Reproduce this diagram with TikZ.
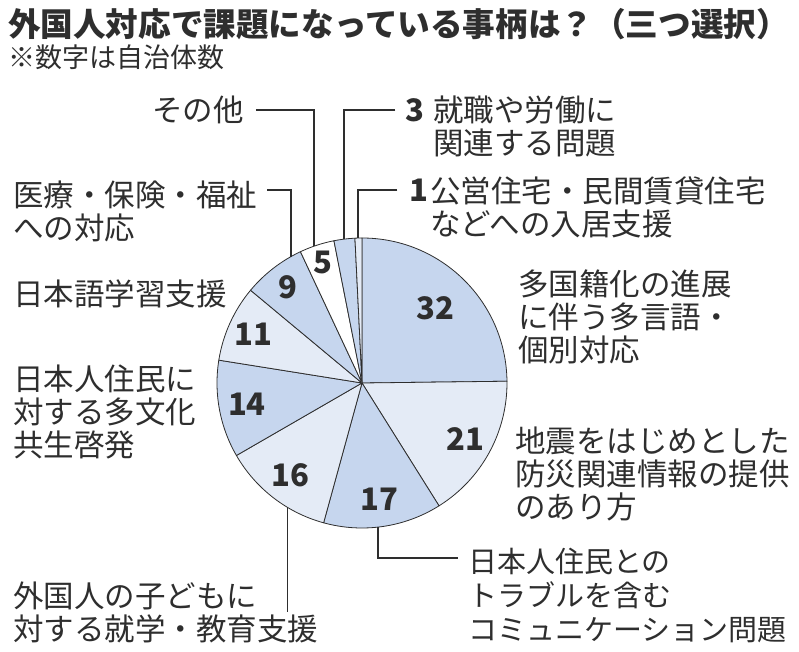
\documentclass[tikz,border=0pt]{standalone}
\usepackage{fontspec}
\newfontfamily\jp{Noto Sans CJK JP}
\definecolor{pieblue}{HTML}{C6D6EE}
\definecolor{pielight}{HTML}{E4EBF6}
\definecolor{ink}{HTML}{2E2E2E}
\tikzset{
	slice/.style={draw=ink, line width=0.8pt, line join=round},
	num/.style={font=\jp\bfseries\fontsize{31}{31}\selectfont, text=ink, inner sep=0pt},
	lbl/.style={font=\jp\fontsize{30.5}{33}\selectfont, text=ink, inner sep=0pt, align=left, anchor=west},
	leader/.style={draw=ink, line width=1.2pt},
}

\begin{document}
\begin{tikzpicture}[x=1pt, y=1pt]
	\useasboundingbox (-362,-269) rectangle (437,383);
	% title
	\node (title) at (-354, 359)	[anchor=west, inner sep=0pt, text=ink, font=\jp\bfseries\fontsize{32.6}{32.6}\selectfont]	{外国人対応で課題になっている事柄は？（三つ選択）};
	\node (note) at (-354, 326)	[anchor=west, inner sep=0pt, text=ink, font=\jp\fontsize{27}{27}\selectfont]	{※数字は自治体数};
	% pie, clockwise from the top
	\filldraw[slice, fill=pieblue]	(0,0) -- (90:145) arc[start angle=90, end angle=0.70, radius=145] -- cycle;
	\filldraw[slice, fill=pielight]	(0,0) -- (0.70:145) arc[start angle=0.70, end angle=-57.91, radius=145] -- cycle;
	\filldraw[slice, fill=pieblue]	(0,0) -- (-57.91:145) arc[start angle=-57.91, end angle=-105.35, radius=145] -- cycle;
	\filldraw[slice, fill=pielight]	(0,0) -- (-105.35:145) arc[start angle=-105.35, end angle=-150, radius=145] -- cycle;
	\filldraw[slice, fill=pieblue]	(0,0) -- (-150:145) arc[start angle=-150, end angle=-189.07, radius=145] -- cycle;
	\filldraw[slice, fill=pielight]	(0,0) -- (-189.07:145) arc[start angle=-189.07, end angle=-219.77, radius=145] -- cycle;
	\filldraw[slice, fill=pieblue]	(0,0) -- (-219.77:145) arc[start angle=-219.77, end angle=-244.88, radius=145] -- cycle;
	\filldraw[slice, fill=white]	(0,0) -- (-244.88:145) arc[start angle=-244.88, end angle=-258.84, radius=145] -- cycle;
	\filldraw[slice, fill=pieblue]	(0,0) -- (-258.84:145) arc[start angle=-258.84, end angle=-267.21, radius=145] -- cycle;
	\filldraw[slice, fill=pielight]	(0,0) -- (-267.21:145) arc[start angle=-267.21, end angle=-270, radius=145] -- cycle;
	% values
	\node (v32) at (45.35:105)	[num]	{32};
	\node (v21) at (-28.6:118)	[num]	{21};
	\node (v17) at (-81.6:118)	[num]	{17};
	\node (v16) at (-127.7:117)	[num]	{16};
	\node (v14) at (-169.5:117)	[num]	{14};
	\node (v11) at (155.6:119)	[num]	{11};
	\node (v9) at (127.7:121)	[num]	{9};
	\node (v5) at (108.1:127)	[num]	{5};
	% where the leaders meet the rim
	\coordinate (p5) at (109.3:145);
	\coordinate (p3) at (97.1:145);
	\coordinate (p1) at (91.6:145);
	\coordinate (p9) at (119.3:145);
	\coordinate (p16) at (-121.1:145);
	\coordinate (p17) at (-83.7:145);
	% labels
	\node (oth) at (-210, 273)	[lbl]	{その他};
	\node (n3) at (53, 273)	[num]	{3};
	\node (job) at (71, 257)	[lbl]	{就職や労働に\\関連する問題};
	\node (n1) at (57, 193)	[num]	{1};
	\node (hou) at (68, 176)	[lbl]	{公営住宅・民間賃貸住宅\\などへの入居支援};
	\node (med) at (-349, 172)	[lbl]	{医療・保険・福祉\\への対応};
	\node (jpn) at (-349, 89)	[lbl]	{日本語学習支援};
	\node (cul) at (-349, -29)	[lbl]	{日本人住民に\\対する多文化\\共生啓発};
	\node (kid) at (-349, -229)	[lbl]	{外国人の子どもに\\対する就学・教育支援};
	\node (trb) at (106, -212)	[lbl, font=\jp\fontsize{29}{34}\selectfont]	{日本人住民との\\トラブルを含む\\コミュニケーション問題};
	\node (mul) at (156, 66)	[lbl]	{多国籍化の進展\\に伴う多言語・\\個別対応};
	\node (dis) at (153, -91)	[lbl]	{地震をはじめとした\\防災関連情報の提供\\のあり方};
	% leaders
	\draw[leader, shorten <=12pt] (oth.east) -| (p5);
	\draw[leader, shorten <=10pt] (n3.west) -| (p3);
	\draw[leader, shorten <=12pt] (n1.west) -| (p1);
	\draw[leader, shorten <=10pt] ([yshift=21pt]med.east) -| (p9);
	\draw[leader] (p16) -- (p16 |- kid.east);
	\draw[leader, shorten >=10pt] (p17) |- ([yshift=37pt]trb.west);
\end{tikzpicture}
\end{document}
